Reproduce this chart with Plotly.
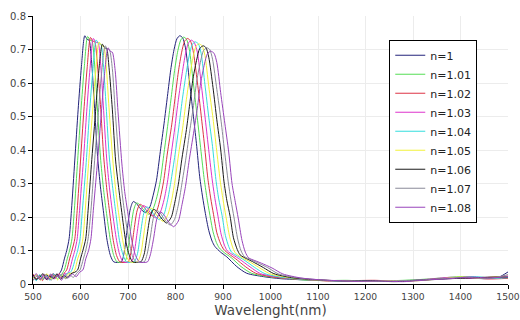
import plotly.graph_objects as go

# ---- data (wavelength in nm, absorbance) ----
series_names = ["n=1", "n=1.01", "n=1.02", "n=1.03", "n=1.04", "n=1.05", "n=1.06", "n=1.07", "n=1.08"]

wl_n100 = [500,507,514,521,528,535,542,549,555,560,566,571,576,581,588,595,602,609,614,618,623,629,636,642,648,656,663,670,686,692,698,705,711,718,726,737,746,753,760,768,776,783,790,797,803,809,815,821,829,837,844,851,857,863,870,877,883,895,908,929,950,985,1020,1060,1100,1150,1200,1250,1300,1350,1400,1450,1480,1500]
ab_n100 = [0.024,0.012,0.026,0.014,0.029,0.017,0.031,0.022,0.030,0.042,0.075,0.100,0.135,0.220,0.370,0.520,0.650,0.741,0.730,0.728,0.670,0.540,0.380,0.290,0.220,0.130,0.085,0.066,0.066,0.095,0.160,0.225,0.246,0.240,0.225,0.213,0.230,0.265,0.310,0.395,0.480,0.560,0.640,0.700,0.732,0.741,0.735,0.705,0.610,0.510,0.420,0.320,0.260,0.210,0.160,0.128,0.112,0.095,0.081,0.052,0.032,0.022,0.016,0.013,0.011,0.009,0.010,0.008,0.011,0.015,0.019,0.016,0.020,0.036]

wl_n101 = [500,508,515,522,530,537,544,551,558,562,566,572,577,582,587,594,601,608,615,620,624,629,635,642,648,654,663,670,677,693,699,705,712,718,725,733,744,753,761,768,776,784,791,798,805,811,817,823,829,837,845,852,860,866,872,879,886,892,904,917,938,960,995,1030,1070,1110,1160,1210,1260,1310,1360,1400,1450,1500]
ab_n101 = [0.018,0.027,0.013,0.025,0.012,0.028,0.016,0.030,0.020,0.032,0.042,0.075,0.100,0.135,0.220,0.369,0.518,0.648,0.739,0.728,0.726,0.668,0.538,0.379,0.289,0.219,0.130,0.085,0.066,0.066,0.094,0.157,0.221,0.242,0.236,0.221,0.208,0.225,0.261,0.308,0.393,0.478,0.557,0.637,0.697,0.728,0.737,0.731,0.701,0.607,0.507,0.418,0.318,0.259,0.209,0.156,0.124,0.108,0.092,0.079,0.052,0.032,0.022,0.017,0.012,0.010,0.011,0.008,0.010,0.013,0.018,0.022,0.018,0.020]

wl_n102 = [500,506,513,520,527,534,541,548,555,561,566,571,577,582,588,593,600,607,614,621,626,630,635,642,649,655,661,669,676,683,700,706,712,719,725,732,741,752,761,768,775,783,792,799,806,813,819,825,831,837,846,854,861,868,874,880,887,895,901,913,926,948,969,1005,1040,1080,1120,1170,1220,1270,1320,1370,1410,1460,1500]
ab_n102 = [0.030,0.015,0.022,0.010,0.027,0.014,0.029,0.017,0.031,0.021,0.033,0.042,0.075,0.100,0.135,0.220,0.367,0.516,0.645,0.736,0.725,0.723,0.665,0.536,0.377,0.288,0.218,0.130,0.085,0.066,0.066,0.093,0.154,0.218,0.238,0.232,0.216,0.203,0.220,0.257,0.307,0.391,0.475,0.554,0.633,0.692,0.724,0.733,0.727,0.697,0.603,0.504,0.415,0.316,0.257,0.208,0.153,0.120,0.104,0.089,0.076,0.051,0.032,0.021,0.016,0.013,0.009,0.010,0.011,0.008,0.012,0.016,0.020,0.015,0.017]

wl_n103 = [500,509,516,523,531,538,545,552,559,566,572,577,583,588,593,598,606,613,620,627,632,637,642,648,655,661,667,676,683,690,707,713,719,726,732,740,748,759,768,776,783,791,799,806,814,821,827,833,839,846,854,862,869,877,883,889,896,903,909,922,935,957,979,1015,1050,1090,1130,1180,1230,1280,1330,1380,1420,1470,1500]
ab_n103 = [0.012,0.025,0.016,0.030,0.013,0.026,0.015,0.030,0.018,0.031,0.030,0.042,0.075,0.100,0.135,0.220,0.366,0.514,0.643,0.733,0.722,0.720,0.663,0.534,0.376,0.287,0.218,0.130,0.085,0.066,0.066,0.092,0.151,0.214,0.234,0.228,0.211,0.197,0.214,0.252,0.304,0.388,0.471,0.550,0.628,0.687,0.719,0.728,0.722,0.692,0.599,0.501,0.412,0.314,0.255,0.206,0.149,0.116,0.099,0.086,0.074,0.051,0.031,0.021,0.016,0.012,0.010,0.008,0.010,0.009,0.014,0.020,0.017,0.021,0.024]

wl_n104 = [500,507,514,522,529,536,543,551,558,565,572,578,582,589,594,599,604,612,619,626,633,639,643,648,654,661,668,674,682,690,697,713,720,726,733,739,747,755,766,776,783,790,799,807,814,822,829,835,841,848,854,862,870,878,885,891,898,905,912,918,931,944,966,988,1024,1060,1100,1140,1190,1240,1290,1340,1390,1430,1470,1500]
ab_n104 = [0.022,0.010,0.028,0.016,0.024,0.011,0.029,0.015,0.027,0.018,0.032,0.034,0.042,0.075,0.100,0.135,0.220,0.363,0.511,0.638,0.728,0.717,0.715,0.658,0.530,0.373,0.285,0.216,0.130,0.085,0.066,0.066,0.091,0.148,0.210,0.230,0.224,0.206,0.192,0.209,0.248,0.303,0.386,0.468,0.547,0.625,0.683,0.714,0.723,0.717,0.688,0.595,0.498,0.410,0.312,0.254,0.205,0.145,0.112,0.095,0.083,0.072,0.050,0.031,0.020,0.015,0.012,0.009,0.010,0.008,0.010,0.013,0.018,0.022,0.017,0.019]

wl_n105 = [500,508,516,523,530,538,545,552,560,567,574,583,588,594,600,605,610,617,625,632,639,645,649,654,660,668,674,680,689,696,704,720,727,733,740,747,754,762,774,783,791,798,806,815,822,830,837,843,849,856,862,870,879,886,894,900,906,914,921,927,940,953,975,998,1034,1070,1110,1150,1200,1250,1300,1350,1400,1440,1480,1500]
ab_n105 = [0.016,0.028,0.011,0.023,0.030,0.014,0.025,0.012,0.028,0.017,0.030,0.033,0.042,0.075,0.100,0.135,0.220,0.360,0.506,0.633,0.722,0.711,0.709,0.653,0.526,0.370,0.282,0.214,0.130,0.085,0.066,0.066,0.090,0.146,0.207,0.227,0.220,0.202,0.187,0.204,0.244,0.300,0.382,0.465,0.542,0.620,0.678,0.709,0.717,0.711,0.682,0.590,0.494,0.407,0.310,0.252,0.203,0.141,0.107,0.091,0.079,0.069,0.050,0.031,0.020,0.015,0.011,0.010,0.008,0.010,0.009,0.014,0.021,0.018,0.022,0.023]

wl_n106 = [500,506,514,521,528,536,543,550,558,565,572,580,588,594,600,605,611,616,623,631,638,646,651,655,660,667,674,681,687,695,703,710,727,734,740,747,754,761,770,781,791,798,806,814,823,830,837,845,851,858,864,870,879,887,895,902,908,915,922,930,936,949,962,985,1007,1044,1080,1120,1160,1210,1260,1310,1360,1400,1450,1500]
ab_n106 = [0.027,0.014,0.020,0.031,0.013,0.024,0.016,0.030,0.014,0.026,0.018,0.031,0.035,0.042,0.075,0.100,0.135,0.220,0.357,0.502,0.628,0.716,0.705,0.703,0.647,0.522,0.367,0.280,0.213,0.130,0.085,0.066,0.066,0.089,0.143,0.203,0.223,0.216,0.197,0.182,0.199,0.240,0.298,0.379,0.461,0.538,0.614,0.672,0.703,0.711,0.706,0.677,0.586,0.490,0.403,0.307,0.250,0.202,0.138,0.103,0.087,0.076,0.067,0.049,0.031,0.019,0.014,0.011,0.009,0.010,0.007,0.011,0.015,0.017,0.020,0.021]

wl_n107 = [500,509,517,524,532,539,547,554,562,569,577,585,593,599,606,611,616,622,629,637,644,652,657,661,667,673,681,687,693,702,709,717,734,740,747,754,761,768,777,789,798,806,813,822,830,838,845,853,859,866,872,878,887,896,903,911,917,923,931,938,945,958,972,994,1017,1054,1090,1130,1170,1220,1270,1320,1370,1410,1460,1500]
ab_n107 = [0.010,0.024,0.015,0.029,0.018,0.012,0.027,0.020,0.031,0.015,0.027,0.020,0.034,0.042,0.075,0.100,0.135,0.220,0.355,0.499,0.624,0.711,0.701,0.699,0.643,0.518,0.365,0.278,0.211,0.130,0.085,0.066,0.066,0.088,0.140,0.200,0.219,0.212,0.192,0.176,0.193,0.236,0.295,0.376,0.457,0.533,0.609,0.666,0.697,0.705,0.700,0.671,0.581,0.486,0.400,0.305,0.248,0.200,0.134,0.099,0.082,0.073,0.064,0.049,0.030,0.019,0.014,0.010,0.009,0.008,0.010,0.012,0.017,0.020,0.016,0.028]

wl_n108 = [500,507,515,522,530,537,545,552,560,567,575,583,591,598,605,611,617,622,627,635,643,650,658,663,667,673,679,687,693,700,708,716,724,741,747,754,761,768,775,784,796,806,813,821,829,838,846,853,861,867,874,881,887,895,904,912,919,926,932,940,947,954,967,981,1003,1026,1064,1100,1140,1180,1230,1280,1330,1380,1420,1460,1500]
ab_n108 = [0.020,0.031,0.012,0.025,0.014,0.030,0.017,0.026,0.011,0.028,0.019,0.030,0.022,0.035,0.042,0.075,0.100,0.135,0.220,0.352,0.495,0.618,0.705,0.694,0.692,0.637,0.514,0.361,0.276,0.209,0.130,0.085,0.066,0.066,0.087,0.137,0.196,0.215,0.208,0.188,0.171,0.188,0.232,0.291,0.371,0.450,0.525,0.600,0.657,0.687,0.695,0.689,0.661,0.572,0.478,0.394,0.300,0.244,0.197,0.130,0.095,0.078,0.070,0.062,0.048,0.030,0.018,0.013,0.010,0.008,0.009,0.007,0.012,0.016,0.021,0.018,0.022]

x_ticks = [500, 600, 700, 800, 900, 1000, 1100, 1200, 1300, 1400, 1500]
y_ticks = [0, 0.1, 0.2, 0.3, 0.4, 0.5, 0.6, 0.7, 0.8]
x_title = "Wavelenght(nm)"

line_colors = ["#22227a", "#55dd55", "#dd3344", "#dd33cc", "#33dddd",
               "#f2f23a", "#1a1a1a", "#8a8a98", "#9944bb"]

wavelengths = [wl_n100, wl_n101, wl_n102, wl_n103, wl_n104, wl_n105, wl_n106, wl_n107, wl_n108]
absorbances = [ab_n100, ab_n101, ab_n102, ab_n103, ab_n104, ab_n105, ab_n106, ab_n107, ab_n108]

fig = go.Figure()
for name, xs, ys, col in zip(series_names, wavelengths, absorbances, line_colors):
    fig.add_trace(go.Scatter(x=xs, y=ys, mode="lines", name=name,
                             line=dict(color=col, width=1, shape="spline", smoothing=0.7)))

font_family = "DejaVu Sans, sans-serif"
fig.update_layout(
    width=520, height=320,
    margin=dict(l=33, r=12, t=16, b=36),
    paper_bgcolor="white", plot_bgcolor="white",
    font=dict(family=font_family, size=10, color="#444"),
    showlegend=True,
    legend=dict(x=0.75, y=0.57, xanchor="left", yanchor="middle",
                bgcolor="white", bordercolor="black", borderwidth=1,
                font=dict(family=font_family, size=11, color="#222"),
                itemwidth=30, tracegroupgap=0),
)
fig.update_xaxes(range=[500, 1500], tickvals=x_ticks, showline=True, linecolor="black",
                 linewidth=1, ticks="outside", ticklen=4, tickcolor="black",
                 showgrid=True, gridcolor="#ececec", zeroline=False, automargin=False,
                 ticklabeloverflow="allow",
                 tickfont=dict(size=9.2, color="#444"),
                 title=dict(text=x_title, font=dict(size=13.5, color="#444"), standoff=0))
fig.update_yaxes(range=[0, 0.8], tickvals=y_ticks, showline=True, linecolor="black",
                 linewidth=1, ticks="outside", ticklen=4, tickcolor="black",
                 showgrid=True, gridcolor="#ececec", zeroline=False, automargin=False,
                 tickfont=dict(size=10, color="#444"))

# remove the default page margin so the 520x320 figure fills the window exactly
fig.write_html("out.html",
               config={"displayModeBar": False},
               post_script="document.body.style.margin='0';document.body.style.overflow='hidden';")
